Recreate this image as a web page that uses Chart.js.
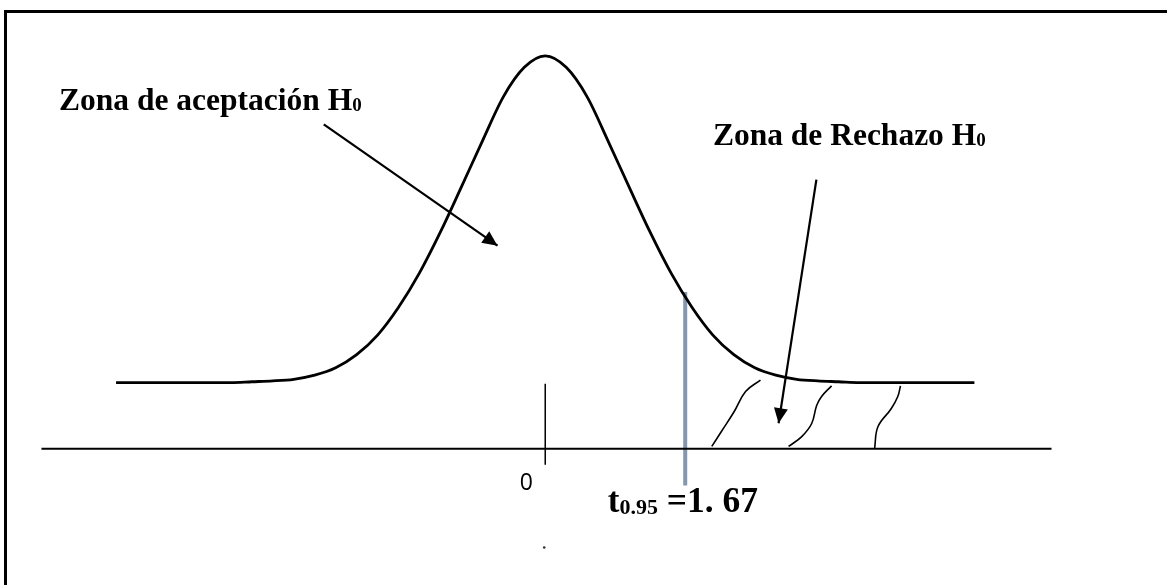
<!DOCTYPE html>
<html lang="es">
<head>
<meta charset="utf-8">
<title>Zona de aceptación y rechazo H0</title>
<script src="https://cdn.jsdelivr.net/npm/chart.js@4.4.1/dist/chart.umd.min.js"></script>
<style>
  html, body { margin: 0; padding: 0; background: #fff; overflow: hidden; }
  #marco { position: absolute; left: 4px; top: 10px; width: 1300px; height: 700px;
           border-left: 3px solid #000; border-top: 3px solid #000; }
  #grafico { position: absolute; left: 0; top: 0; }
</style>
</head>
<body>
<div id="marco"></div>
<canvas id="grafico" width="1167" height="585"></canvas>
<script>
// Valores (eje x en unidades t, eje y = altura de la curva)
const curvaX = [-5.12, -4.0, -3.75, -3.5, -3.25, -3.0, -2.75, -2.5, -2.25, -2.0, -1.75, -1.5, -1.25, -1.0, -0.75, -0.5, -0.25,
                0, 0.25, 0.5, 0.75, 1.0, 1.25, 1.5, 1.75, 2.0, 2.25, 2.5, 2.75, 3.0, 3.25, 3.5, 3.75, 4.0, 5.12];
const curvaY = [0.081, 0.081, 0.081, 0.082, 0.083, 0.085, 0.090, 0.099, 0.115, 0.139, 0.173, 0.215, 0.265, 0.320, 0.376, 0.430, 0.466,
                0.480, 0.466, 0.430, 0.376, 0.320, 0.265, 0.215, 0.173, 0.139, 0.115, 0.099, 0.090, 0.085, 0.083, 0.082, 0.081, 0.081, 0.081];

// Eje horizontal y marca del cero
const ejeX = [-6.01, 6.04];
const ejeY = [0, 0];
const marcaX = [0, 0];
const marcaY = [0.0795, -0.0193];

// Valor crítico t0.95 = 1.67
const tCritico = 1.67;
const criticoY = [0.1916, -0.0446];

// Rayado de la zona de rechazo (trazos a mano)
const raya1X = [1.987, 2.113, 2.251, 2.390, 2.568];
const raya1Y = [0.003, 0.023, 0.045, 0.070, 0.084];
const raya2X = [2.903, 3.060, 3.179, 3.238, 3.297, 3.416];
const raya2Y = [0.003, 0.015, 0.031, 0.053, 0.064, 0.077];
const raya3X = [3.930, 3.969, 4.127, 4.206, 4.238];
const raya3Y = [0.001, 0.027, 0.049, 0.064, 0.077];

// Flechas (inicio -> punta)
const flecha1X = [-2.642, -0.569];
const flecha1Y = [0.3964, 0.2482];
const flecha2X = [3.235, 2.784];
const flecha2Y = [0.3289, 0.0313];

// Puntito suelto bajo el eje
const puntoX = [-0.012];
const puntoY = [-0.1205];

// Textos
const textoAceptacion = "Zona de aceptación H";
const textoRechazo = "Zona de Rechazo H";
const subIndice = "0";
const textoT = "t";
const subT = "0.95";
const textoValor = " =1. 67";
const textoCero = "0";

function puntos(xs, ys) {
  return xs.map((x, i) => ({ x: x, y: ys[i] }));
}

function linea(xs, ys, color, ancho, extra) {
  return Object.assign({
    data: puntos(xs, ys),
    showLine: true,
    borderColor: color,
    backgroundColor: color,
    borderWidth: ancho,
    pointRadius: 0,
    tension: 0
  }, extra || {});
}

const serif = '"Liberation Serif", "Times New Roman", serif';

// Etiquetas (ancla en unidades de los datos)
const etiquetas = [
  { x: -5.80, y: 0.4145, runs: [{ text: textoAceptacion, size: 31.5 }, { text: subIndice, size: 19, dy: 1 }] },
  { x: 2.00, y: 0.3711, runs: [{ text: textoRechazo, size: 31.5 }, { text: subIndice, size: 19, dy: 1 }] },
  { x: 0.746, y: -0.0771, runs: [{ text: textoT, size: 35 }, { text: subT, size: 22, dy: 2 }, { text: textoValor, size: 35.5 }] }
];

// Plugin: puntas de flecha
const puntasFlecha = {
  id: 'puntasFlecha',
  afterDatasetsDraw(chart) {
    const ctx = chart.ctx;
    chart.data.datasets.forEach((ds, i) => {
      if (!ds.flecha) return;
      const pts = chart.getDatasetMeta(i).data;
      const a = pts[pts.length - 2], b = pts[pts.length - 1];
      const ang = Math.atan2(b.y - a.y, b.x - a.x);
      const largo = 15, medio = 7;
      ctx.save();
      ctx.fillStyle = '#000';
      ctx.beginPath();
      ctx.moveTo(b.x, b.y);
      ctx.lineTo(b.x - largo * Math.cos(ang) + medio * Math.sin(ang), b.y - largo * Math.sin(ang) - medio * Math.cos(ang));
      ctx.lineTo(b.x - largo * Math.cos(ang) - medio * Math.sin(ang), b.y - largo * Math.sin(ang) + medio * Math.cos(ang));
      ctx.closePath();
      ctx.fill();
      ctx.restore();
    });
  }
};

// Plugin: textos
const textos = {
  id: 'textos',
  afterDraw(chart) {
    const ctx = chart.ctx;
    const sx = chart.scales.x, sy = chart.scales.y;
    ctx.save();
    ctx.fillStyle = '#000';
    ctx.textBaseline = 'alphabetic';
    etiquetas.forEach(et => {
      let cx = sx.getPixelForValue(et.x);
      const cy = sy.getPixelForValue(et.y);
      et.runs.forEach(r => {
        ctx.font = 'bold ' + r.size + 'px ' + serif;
        ctx.fillText(r.text, cx, cy + (r.dy || 0));
        cx += ctx.measureText(r.text).width;
      });
    });
    // el cero del eje
    ctx.font = '23px "Open Sans", "Liberation Sans", sans-serif';
    ctx.textAlign = 'center';
    ctx.fillText(textoCero, sx.getPixelForValue(-0.225), sy.getPixelForValue(-0.0506));
    ctx.restore();
  }
};

new Chart(document.getElementById('grafico'), {
  type: 'scatter',
  data: {
    datasets: [
      linea(ejeX, ejeY, '#000', 2),
      linea(marcaX, marcaY, '#000', 1.5),
      linea(raya1X, raya1Y, '#000', 1.6, { tension: 0.4 }),
      linea(raya2X, raya2Y, '#000', 1.6, { tension: 0.4 }),
      linea(raya3X, raya3Y, '#000', 1.6, { tension: 0.4 }),
      linea(curvaX, curvaY, '#000', 2.8, { cubicInterpolationMode: 'monotone' }),
      linea([tCritico, tCritico], criticoY, '#8497b0', 4),
      linea(flecha1X, flecha1Y, '#000', 2.2, { flecha: true }),
      linea(flecha2X, flecha2Y, '#000', 2.2, { flecha: true }),
      { data: puntos(puntoX, puntoY), pointRadius: 1.3, backgroundColor: '#333', borderWidth: 0 }
    ]
  },
  options: {
    responsive: false,
    animation: false,
    devicePixelRatio: 1,
    layout: { padding: 0 },
    plugins: { legend: { display: false }, tooltip: { enabled: false } },
    scales: {
      x: { type: 'linear', display: false, min: -6.457, max: 7.370 },
      y: { type: 'linear', display: false, min: -0.1614, max: 0.5434 }
    }
  },
  plugins: [puntasFlecha, textos]
});
</script>
</body>
</html>
